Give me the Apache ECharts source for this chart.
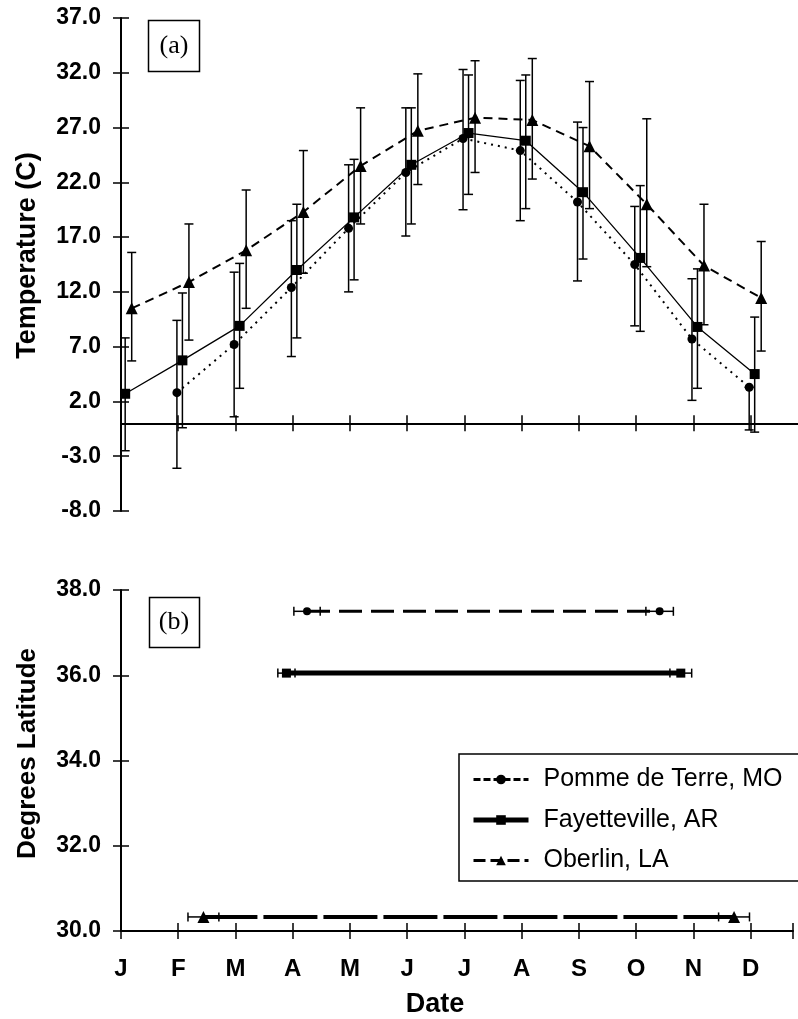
<!DOCTYPE html>
<html><head><meta charset="utf-8">
<script src="https://cdn.jsdelivr.net/npm/echarts@6/dist/echarts.min.js"></script>
<style>html,body{margin:0;padding:0;background:#fff}#chart{width:798px;height:1019px}</style>
</head><body><div id="chart"></div>
<script>
// ---------- data ----------
const monthLabels = ['J','F','M','A','M','J','J','A','S','O','N','D'];
const stations = ['Pomme de Terre, MO','Fayetteville, AR','Oberlin, LA'];
const tempTicks = [-8,-3,2,7,12,17,22,27,32,37];
const latTicks = [30,32,34,36,38];
// panel (a): monthly mean temperature (C) with error-bar limits
const pommeTemp = [null,2.8,7.2,12.4,17.8,22.9,26.0,24.9,20.2,14.5,7.7,3.3];
const pommeLow  = [null,-4.1,0.6,6.1,12.0,17.1,19.5,18.5,13.0,8.9,2.1,-0.6];
const pommeHigh = [null,9.4,13.8,18.5,23.6,28.8,32.3,31.3,27.5,19.8,13.2,3.3];
const fayTemp   = [2.7,5.75,8.9,14.0,18.8,23.6,26.5,25.8,21.1,15.1,8.8,4.5];
const fayLow    = [-2.5,-0.4,3.2,7.8,13.1,18.2,20.9,19.6,15.0,8.4,3.2,-0.8];
const fayHigh   = [7.8,11.9,14.6,20.0,24.1,28.8,31.8,31.8,27.0,21.7,14.1,9.7];
const oberTemp  = [10.5,12.9,15.8,19.3,23.5,26.7,27.9,27.7,25.3,20.0,14.4,11.45];
const oberLow   = [5.7,7.6,10.5,13.7,18.2,21.8,22.9,22.3,19.6,14.3,9.0,6.6];
const oberHigh  = [15.6,18.2,21.3,24.9,28.8,31.9,33.1,33.3,31.2,27.8,20.0,16.6];
// panel (b): latitude and period (month units, J = 0)
const latitudes   = [37.5, 36.05, 30.33];
const periodStart = [3.25, 2.89, 1.44];
const periodEnd   = [9.41, 9.78, 10.71];
const startErr    = [0.23, 0.15, 0.27];
const endErr      = [0.24, 0.19, 0.27];

// ---------- build ----------
const FONT = '"Liberation Sans", Arial, sans-serif';
const dodge = [-0.023, 0.073, 0.187];
const temps = [pommeTemp, fayTemp, oberTemp];
const lows = [pommeLow, fayLow, oberLow];
const highs = [pommeHigh, fayHigh, oberHigh];
const symbols = ['circle','rect','triangle'];
const topSizes = [9, 10, 12];
const botSizes = [8, 9, 12];
const topLine = [{type:[2,5], width:2}, {type:'solid', width:1.3}, {type:[9,6], width:2}];
const botLine = [{type:[23,9], width:3}, {type:'solid', width:5}, {type:[54,6], width:4}];
const legLine = [{type:[7,3], width:3}, {type:'solid', width:5}, {type:[12,5], width:3}];
const months = monthLabels.map((m,i)=>i);

function vBars(params, api) {
  const x = api.value(0), lo = api.value(1), hi = api.value(2);
  const a = api.coord([x, lo]), b = api.coord([x, hi]);
  const hw = 4.5, st = {stroke:'#000', lineWidth:1.5};
  return {type:'group', children:[
    {type:'line', shape:{x1:a[0],y1:a[1],x2:b[0],y2:b[1]}, style:st},
    {type:'line', shape:{x1:a[0]-hw,y1:a[1],x2:a[0]+hw,y2:a[1]}, style:st},
    {type:'line', shape:{x1:b[0]-hw,y1:b[1],x2:b[0]+hw,y2:b[1]}, style:st}
  ]};
}
function hBars(params, api) {
  const y = api.value(0), lo = api.value(1), hi = api.value(2);
  const a = api.coord([lo, y]), b = api.coord([hi, y]);
  const hh = 4.5, st = {stroke:'#000', lineWidth:1.5};
  return {type:'group', children:[
    {type:'line', shape:{x1:a[0],y1:a[1],x2:b[0],y2:b[1]}, style:st},
    {type:'line', shape:{x1:a[0],y1:a[1]-hh,x2:a[0],y2:a[1]+hh}, style:st},
    {type:'line', shape:{x1:b[0],y1:b[1]-hh,x2:b[0],y2:b[1]+hh}, style:st}
  ]};
}

const series = [];
// panel (b) series first (legend takes the first series of each name)
stations.forEach((name, s) => {
  series.push({
    type:'line', name, xAxisIndex:2, yAxisIndex:2,
    data:[[periodStart[s], latitudes[s]], [periodEnd[s], latitudes[s]]],
    symbol:symbols[s], symbolSize:botSizes[s], z:4,
    itemStyle:{color:'#000'}, lineStyle:{color:'#000', width:botLine[s].width, type:botLine[s].type}
  });
  series.push({
    type:'custom', name: name + ' period error', xAxisIndex:2, yAxisIndex:2,
    renderItem:hBars, encode:{x:[1,2], y:0}, z:3,
    data:[[latitudes[s], periodStart[s]-startErr[s], periodStart[s]+startErr[s]],
          [latitudes[s], periodEnd[s]-endErr[s], periodEnd[s]+endErr[s]]]
  });
});
// panel (a)
stations.forEach((name, s) => {
  const pts = [], bars = [];
  months.forEach(i => {
    if (temps[s][i] == null) return;
    pts.push([i + dodge[s], temps[s][i]]);
    bars.push([i + dodge[s], lows[s][i], highs[s][i]]);
  });
  series.push({
    type:'custom', name: name + ' temperature error', xAxisIndex:0, yAxisIndex:0,
    renderItem:vBars, encode:{x:0, y:[1,2]}, z:3, data:bars
  });
  series.push({
    type:'line', name, xAxisIndex:0, yAxisIndex:0, data:pts,
    symbol:symbols[s], symbolSize:topSizes[s], z:4,
    itemStyle:{color:'#000'}, lineStyle:{color:'#000', width:topLine[s].width, type:topLine[s].type}
  });
});

const axLine = {show:true, onZero:true, lineStyle:{color:'#000', width:2}};
const labelStyle = {color:'#000', fontFamily:FONT, fontWeight:'bold'};

const option = {
  animation:false,
  backgroundColor:'#fff',
  grid:[
    {left:121, top:18, width:677, height:493},
    {left:121, top:590, width:672, height:343}
  ],
  xAxis:[
    {type:'value', gridIndex:0, min:0, max:11.83, axisLine:axLine,
     axisTick:{show:true, length:8, customValues:months, lineStyle:{color:'#000', width:1.5}},
     axisLabel:{show:false}, splitLine:{show:false}},
    {type:'value', gridIndex:0, min:0, max:11.83, position:'bottom', axisLine:{show:false, onZero:true},
     axisTick:{show:true, inside:true, length:8, customValues:months, lineStyle:{color:'#000', width:1.5}},
     axisLabel:{show:false}, splitLine:{show:false}},
    {type:'value', gridIndex:1, min:0, max:11.74, axisLine:axLine,
     axisTick:{show:true, length:8, customValues:months.concat([11.74]), lineStyle:{color:'#000', width:1.5}},
     axisLabel:Object.assign({customValues:months, fontSize:24, margin:26,
       formatter:v=>monthLabels[Math.round(v)]}, labelStyle),
     splitLine:{show:false},
     name:'Date', nameLocation:'middle', nameGap:60,
     nameTextStyle:{fontSize:27, fontWeight:'bold', fontFamily:FONT, color:'#000', padding:[0,44,0,0]}},
    {type:'value', gridIndex:1, min:0, max:11.74, position:'bottom', axisLine:{show:false},
     axisTick:{show:true, inside:true, length:8, customValues:months.concat([11.74]), lineStyle:{color:'#000', width:1.5}},
     axisLabel:{show:false}, splitLine:{show:false}}
  ],
  yAxis:[
    {type:'value', gridIndex:0, min:-8, max:37, axisLine:axLine,
     axisTick:{show:true, length:8, customValues:tempTicks, lineStyle:{color:'#000', width:1.5}},
     axisLabel:Object.assign({customValues:tempTicks, fontSize:23, margin:20, formatter:v=>v.toFixed(1)}, labelStyle),
     splitLine:{show:false},
     name:'Temperature (C)', nameLocation:'middle', nameGap:80,
     nameTextStyle:{fontSize:27, fontWeight:'bold', fontFamily:FONT, color:'#000', padding:[0,0,0,18]}},
    {type:'value', gridIndex:0, min:-8, max:37, position:'left', axisLine:{show:false},
     axisTick:{show:true, inside:true, length:8, customValues:tempTicks, lineStyle:{color:'#000', width:1.5}},
     axisLabel:{show:false}, splitLine:{show:false}},
    {type:'value', gridIndex:1, min:30, max:38, axisLine:axLine,
     axisTick:{show:true, length:8, customValues:latTicks, lineStyle:{color:'#000', width:1.5}},
     axisLabel:Object.assign({customValues:latTicks, fontSize:23, margin:20, formatter:v=>v.toFixed(1)}, labelStyle),
     splitLine:{show:false},
     name:'Degrees Latitude', nameLocation:'middle', nameGap:80,
     nameTextStyle:{fontSize:26, fontWeight:'bold', fontFamily:FONT, color:'#000', padding:[0,0,0,14]}},
    {type:'value', gridIndex:1, min:30, max:38, position:'left', axisLine:{show:false},
     axisTick:{show:true, inside:true, length:8, customValues:latTicks, lineStyle:{color:'#000', width:1.5}},
     axisLabel:{show:false}, splitLine:{show:false}}
  ],
  legend:{
    orient:'vertical', left:459, top:754,
    padding:[13, 30, 8, 12],
    borderColor:'#000', borderWidth:1.5, backgroundColor:'#fff',
    itemWidth:55, itemHeight:12, itemGap:15.5,
    textStyle:{fontSize:25, fontFamily:FONT, color:'#000', padding:[0,0,0,10]},
    data: stations.map((n,s)=>({name:n, lineStyle:{color:'#000', width:legLine[s].width, type:legLine[s].type}, itemStyle:{color:'#000'}}))
  },
  graphic:[
    {type:'rect', shape:{x:148.5, y:20.5, width:51, height:51}, style:{fill:'#fff', stroke:'#000', lineWidth:1.5}, z:10},
    {type:'text', x:174, y:46, z:11, style:{text:'(a)', font:'26px "Liberation Serif", "Times New Roman", serif', textAlign:'center', textVerticalAlign:'middle', fill:'#000'}},
    {type:'rect', shape:{x:149.5, y:597.5, width:50, height:50}, style:{fill:'#fff', stroke:'#000', lineWidth:1.5}, z:10},
    {type:'text', x:174, y:622, z:11, style:{text:'(b)', font:'26px "Liberation Serif", "Times New Roman", serif', textAlign:'center', textVerticalAlign:'middle', fill:'#000'}}
  ],
  series
};
const chart = echarts.init(document.getElementById('chart'), null, {renderer:'canvas'});
chart.setOption(option);
</script>
</body></html>
